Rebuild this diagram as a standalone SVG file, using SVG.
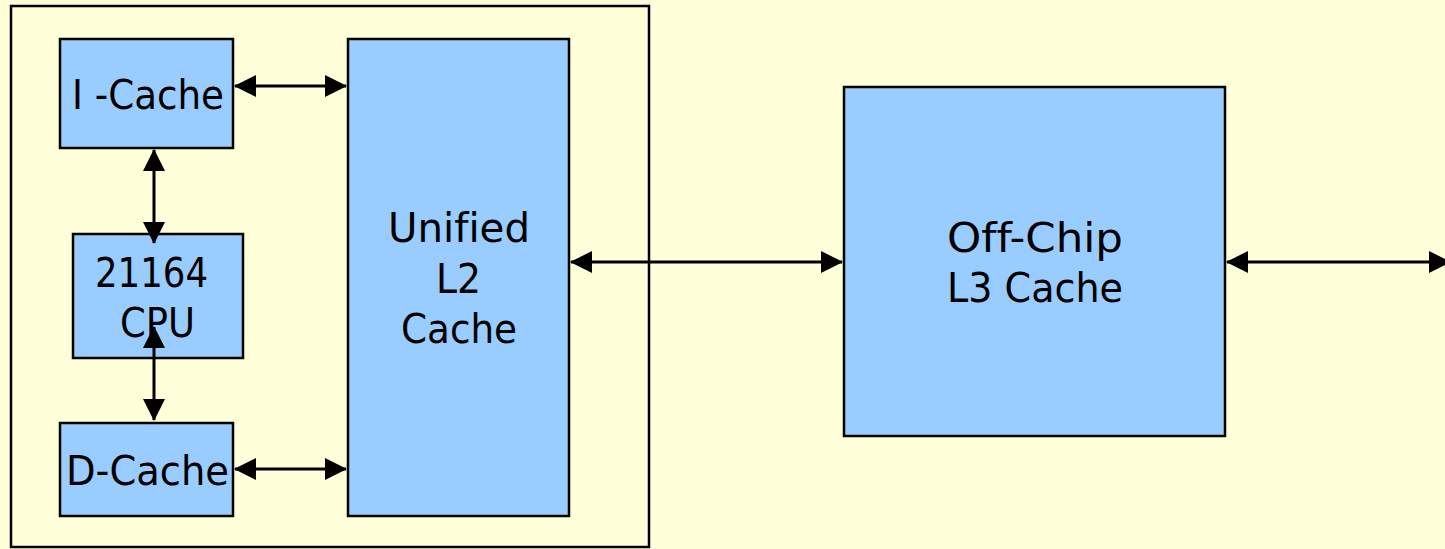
<svg xmlns="http://www.w3.org/2000/svg" width="1445" height="549" viewBox="0 0 1445 549">
  <defs>
    <marker id="head" viewBox="0 0 22 22" refX="21" refY="11" markerWidth="22" markerHeight="22" markerUnits="userSpaceOnUse" orient="auto-start-reverse">
      <path d="M0,0 L22,11 L0,22 z" fill="#000"/>
    </marker>
    <style>
      .box { fill: #99CCFF; stroke: #000; stroke-width: 2.5; }
      .chip { fill: #FFFFD9; stroke: #000; stroke-width: 2.5; }
      .lbl { font-family: "DejaVu Sans", "Liberation Sans", sans-serif; font-size: 40px; fill: #000; font-variant-ligatures: none; font-feature-settings: "liga" 0; }
      .link { fill: none; stroke: #000; stroke-width: 3; marker-start: url(#head); marker-end: url(#head); }
    </style>
  </defs>

  <rect width="1445" height="549" fill="#FFFFD9"/>

  <!-- processor chip boundary -->
  <g id="chip">
    <rect class="chip" x="11" y="6" width="638" height="541"/>
  </g>

  <g id="icache">
    <rect class="box" x="60" y="39" width="173" height="109"/>
    <text class="lbl" x="72" y="109" textLength="152" lengthAdjust="spacingAndGlyphs">I -Cache</text>
  </g>

  <g id="cpu">
    <rect class="box" x="73" y="234" width="170" height="124"/>
    <text class="lbl" x="95" y="287" textLength="113" lengthAdjust="spacingAndGlyphs">21164</text>
    <text class="lbl" x="120" y="337" textLength="75" lengthAdjust="spacingAndGlyphs">CPU</text>
  </g>

  <g id="dcache">
    <rect class="box" x="60" y="423" width="173" height="93"/>
    <text class="lbl" x="66" y="485" textLength="163" lengthAdjust="spacingAndGlyphs">D-Cache</text>
  </g>

  <g id="l2">
    <rect class="box" x="348" y="39" width="221" height="477"/>
    <text class="lbl" x="388" y="242" textLength="142" lengthAdjust="spacingAndGlyphs">Unified</text>
    <text class="lbl" x="436" y="293" textLength="45" lengthAdjust="spacingAndGlyphs">L2</text>
    <text class="lbl" x="401" y="343" textLength="116" lengthAdjust="spacingAndGlyphs">Cache</text>
  </g>

  <g id="l3">
    <rect class="box" x="844" y="87" width="381" height="349"/>
    <text class="lbl" x="947" y="252" textLength="176" lengthAdjust="spacingAndGlyphs">Off-Chip</text>
    <text class="lbl" x="947" y="302" textLength="176" lengthAdjust="spacingAndGlyphs">L3 Cache</text>
  </g>

  <g id="connectors">
    <line class="link" x1="235" y1="86" x2="346" y2="86"/>
    <line class="link" x1="154" y1="150" x2="154" y2="243"/>
    <line class="link" x1="154" y1="327" x2="154" y2="420"/>
    <line class="link" x1="235" y1="469" x2="346" y2="469"/>
    <line class="link" x1="571" y1="262" x2="842" y2="262"/>
    <line class="link" x1="1227" y1="262" x2="1450" y2="262"/>
  </g>
</svg>
